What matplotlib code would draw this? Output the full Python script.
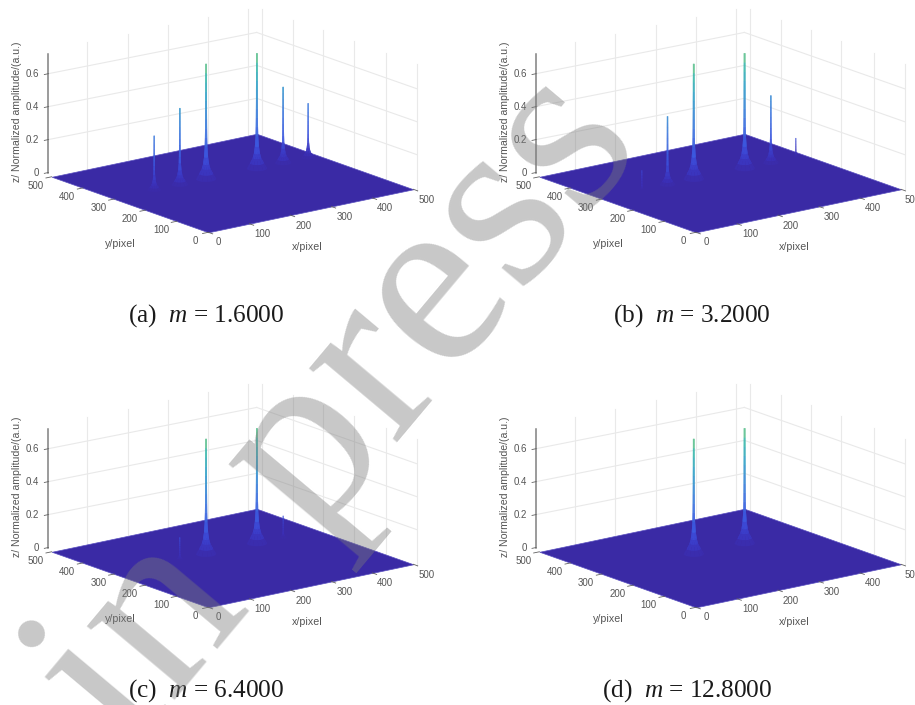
import numpy as np
import matplotlib
matplotlib.use("Agg")
import matplotlib.pyplot as plt
from matplotlib.colors import LinearSegmentedColormap
from mpl_toolkits.mplot3d import proj3d

W, H = 915, 705

# spike positions on the floor
peak_x = [99.5, 162, 226, 350, 414, 475]
peak_y = [303, 303, 303, 303, 303, 303]

# spike heights per panel
heights_a = [0.33, 0.465, 0.70, 0.70, 0.462, 0.331]
heights_b = [0.12, 0.415, 0.70, 0.70, 0.41, 0.12]
heights_c = [0.0, 0.136, 0.70, 0.70, 0.135, 0.0]
heights_d = [0.0, 0.0, 0.70, 0.70, 0.0, 0.0]

captions = ["(a)  $m$ = 1.6000", "(b)  $m$ = 3.2000", "(c)  $m$ = 6.4000", "(d)  $m$ = 12.8000"]
caption_x = [128, 613, 128, 602]
caption_y = [322, 322, 697, 697]

# spike outline: fraction of peak height, radius in data units
spike_levels = [1, 0.92, 0.84, 0.76, 0.68, 0.6, 0.52, 0.44, 0.36, 0.28, 0.19, 0.13, 0.09, 0.045, 0]
spike_radii = [1.6, 1.6, 1.7, 1.7, 1.8, 1.8, 1.9, 2.0, 2.2, 2.6, 4.0, 6.0, 8.5, 14, 20]

xticks = [0, 100, 200, 300, 400, 500]
yticks = [0, 100, 200, 300, 400, 500]
zticks = [0, 0.2, 0.4, 0.6]
ztick_labels = ["0", "0.2", "0.4", "0.6"]

# wall grid lines sit a little off the tick positions in the original
x_wall = [86.6, 185, 284, 382, 478.5]
y_wall = [483, 384, 288, 190, 87, -12]
z_top = 0.77

parula = LinearSegmentedColormap.from_list("parula_ish", [
    (0.0, "#3a2aa5"), (0.04, "#3a30b8"), (0.10, "#3b3cc8"), (0.20, "#3c55e0"),
    (0.42, "#3f78e0"), (0.71, "#35a5c8"), (0.89, "#40bfa8"), (1.0, "#90c870")])

plt.rcParams["font.family"] = "Liberation Sans"
plt.rcParams["mathtext.fontset"] = "custom"
plt.rcParams["mathtext.it"] = "Liberation Serif:italic"
plt.rcParams["mathtext.rm"] = "Liberation Serif"

fig = plt.figure(figsize=(W / 100, H / 100), dpi=100)


def to_px(ax, x, y, z):
    px, py, _ = proj3d.proj_transform(x, y, z, ax.get_proj())
    return ax.transData.transform((px, py))


def place(ax, ox, oy):
    # fit axes so that the floor has the size and place of the original
    size = 420.0
    ax.set_position([(ox - size / 2) / W, (H - oy - size / 2) / H, size / W, size / H])
    a = to_px(ax, 0, 0, 0)
    b = to_px(ax, 500, 0, 0)
    size = size * 205.0 / (b[0] - a[0])
    ax.set_position([(ox - size / 2) / W, (H - oy - size / 2) / H, size / W, size / H])
    a = to_px(ax, 0, 0, 0)
    left = (ox - size / 2 + ox - a[0]) / W
    bottom = (H - oy - size / 2 + (H - oy) - a[1]) / H
    ax.set_position([left, bottom, size / W, size / H])


def put(ax, x, y, z, text, dx=0, dy=0, fontsize=7.0, ha="center", rotation=0):
    # label at a data point plus a shift in pixels (dy counted downward)
    p = to_px(ax, x, y, z)
    fig.text((p[0] + dx) / W, (p[1] - dy) / H, text, color="#555555", fontsize=fontsize,
             ha=ha, va="center", rotation=rotation)


def panel(ox, oy, heights, clipped=False):
    ax = fig.add_axes([0, 0, 0.4, 0.4], projection="3d", computed_zorder=False)
    ax.set_proj_type("ortho")
    ax.view_init(elev=15.83, azim=-127.57)
    ax.set_box_aspect((1.007, 1, 0.5))
    ax.set_xlim(0, 500)
    ax.set_ylim(0, 500)
    ax.set_zlim(0, 0.75)
    ax.set_axis_off()
    place(ax, ox, oy)

    grid = dict(color="#e9e9e9", lw=0.8, zorder=1, clip_on=False)
    for x in x_wall:
        ax.plot([x, x], [500, 500], [0, z_top], **grid)
    for y in y_wall:
        ax.plot([500, 500], [y, y], [0, z_top], **grid)
    for z in zticks[1:]:
        ax.plot([-8, 500], [500, 500], [z + 0.03, z + 0.015], **grid)
        ax.plot([500, 500], [500, -12], [z + 0.015, z + 0.018], **grid)

    fx, fy = np.meshgrid([0, 500], [0, 500])
    ax.plot_surface(fx, fy, np.zeros_like(fx) * 1.0, color="#3a2aa5", shade=False,
                    linewidth=0.5, edgecolor="#5a50c0", zorder=2)

    theta = np.linspace(0, 2 * np.pi, 13)
    levels = np.array(spike_levels)
    radii = np.array(spike_radii)
    for i in range(len(peak_x)):
        if heights[i] <= 0:
            continue
        r = radii * np.sqrt(heights[i] / 0.7)
        sx = peak_x[i] + np.outer(r, np.cos(theta))
        sy = peak_y[i] + np.outer(r, np.sin(theta))
        sz = np.outer(levels * heights[i], np.ones_like(theta))
        ax.plot_surface(sx, sy, sz, cmap=parula, vmin=0, vmax=0.72, shade=False,
                        rstride=1, cstride=1, linewidth=0, antialiased=True, zorder=3 + i * 0.01)

    ax.plot([-8, -8], [500, 500], [0.03, 0.75], color="#808080", lw=1.1, zorder=4, clip_on=False)
    tick = dict(color="#606060", lw=0.6, zorder=4, clip_on=False)
    for z in zticks:
        ax.plot([-18, -8], [500, 500], [z + 0.03, z + 0.03], **tick)
    for x in xticks:
        ax.plot([x, x], [-14, 0], [0, 0], **tick)
    for y in yticks:
        ax.plot([-14, 0], [y, y], [0, 0], **tick)

    for x in xticks:
        if x == 500 and clipped:
            put(ax, x, 0, 0, "50", dx=4, dy=10.8, ha="left")
        elif x == 0:
            put(ax, x, 0, 0, "0", dx=10, dy=9.7)
        else:
            put(ax, x, 0, 0, str(x), dx=13, dy=10.5)
    for y in yticks:
        if y == 0:
            put(ax, 0, y, 0, "0", dx=-12.6, dy=9)
        else:
            put(ax, 0, y, 0, str(y), dx=-16, dy=9)
    for z, text in zip(zticks, ztick_labels):
        put(ax, -8, 500, z + 0.03, text, dx=-9.3, ha="right")
    put(ax, 0, 250, 0, "y/pixel", dx=-9.5, dy=39, fontsize=7.7)
    put(ax, 250, 0, 0, "x/pixel", dx=-4, dy=36, fontsize=7.7)
    put(ax, -8, 500, 0.4, "z/ Normalized amplitude/(a.u.)", dx=-31.5, dy=0, fontsize=7.6, rotation=90)
    return ax


panel(208.3, 232.3, heights_a)
panel(208.3 + 487.7, 232.3, heights_b, clipped=True)
panel(208.3, 232.3 + 375, heights_c)
panel(208.3 + 487.7, 232.3 + 375, heights_d, clipped=True)

for cx, cy, cap in zip(caption_x, caption_y, captions):
    fig.text(cx / W, 1 - cy / H, cap, family="Liberation Serif", fontsize=18.2,
             color="#1a1a1a", ha="left", va="baseline")

# watermark over everything, two words because the gap is wider than a space
for wx, wy, word in [(125, 753, "in"), (312, 539, "press")]:
    fig.text(wx / W, 1 - wy / H, word, family="Liberation Serif", rotation=50,
             rotation_mode="anchor", fontsize=181, color="#7b7b7b", alpha=0.416,
             ha="left", va="baseline", zorder=20)

fig.savefig("out.png", dpi=100)
